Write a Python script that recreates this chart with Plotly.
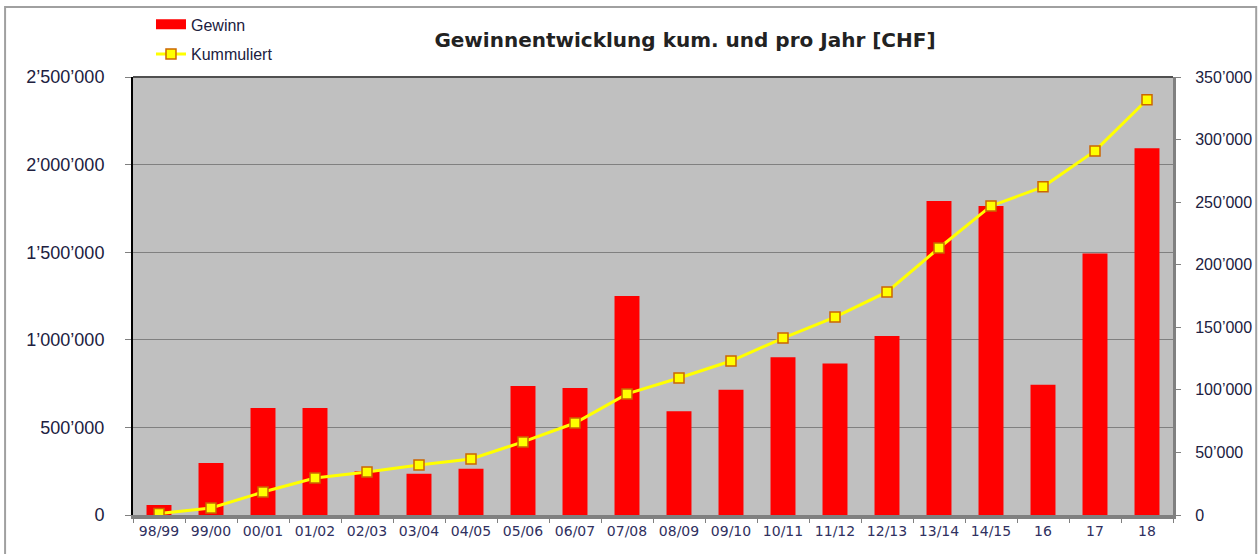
import plotly.graph_objects as go

jahre = ["98/99", "99/00", "00/01", "01/02", "02/03", "03/04", "04/05", "05/06", "06/07", "07/08",
         "08/09", "09/10", "10/11", "11/12", "12/13", "13/14", "14/15", "16", "17", "18"]
gewinn = [8000, 41500, 85500, 85500, 35000, 33000, 37000, 103000, 101500, 175000,
          83000, 100000, 126000, 121000, 143000, 251000, 247000, 104000, 209000, 293000]
kummuliert = [8000, 40000, 131000, 211000, 245000, 285000, 320000, 417000, 525000, 691000,
              782000, 879000, 1010000, 1130000, 1273000, 1524000, 1764000, 1873000, 2078000, 2370000]

fig = go.Figure()

# Balken pro Jahr (rechte Achse)
fig.add_trace(go.Bar(x=jahre, y=gewinn, name="Gewinn", marker=dict(color="#FF0000", line=dict(width=0)),
                     width=0.48, yaxis="y", showlegend=False))
# Legendeneintrag als breiter roter Balken
fig.add_trace(go.Scatter(x=[jahre[0]], y=[None], mode="lines", name="Gewinn", legendgroup="a",
                         line=dict(color="#FF0000", width=14), yaxis="y"))
# Kumulierte Linie (linke Achse)
fig.add_trace(go.Scatter(x=jahre, y=kummuliert, name="Kummuliert", legendgroup="b", mode="lines+markers",
                         line=dict(color="#FFFF00", width=3),
                         marker=dict(symbol="square", size=10, color="#FFFF00",
                                     line=dict(color="#CC6600", width=1.5)),
                         yaxis="y2"))

fig.update_layout(
    width=1258, height=554,
    margin=dict(l=133, r=85, t=77, b=39, autoexpand=False),
    paper_bgcolor="white",
    plot_bgcolor="#C0C0C0",
    separators=".’",
    bargap=0.5,
    title=dict(text="<b>Gewinnentwicklung kum. und pro Jahr [CHF]</b>", x=0.5445, xanchor="center",
               y=0.927, yanchor="middle",
               font=dict(family="DejaVu Sans, Verdana", size=20, color="#222222")),
    legend=dict(x=0.0173, y=1.159, xanchor="left", yanchor="top", bgcolor="rgba(0,0,0,0)",
                font=dict(family="Liberation Sans, Arial", size=16, color="#202040"),
                tracegroupgap=6, itemwidth=30),
    xaxis=dict(type="category", categoryorder="array", categoryarray=jahre, range=[-0.5, len(jahre) - 0.5],
               tickson="boundaries", ticks="outside", ticklen=4, tickcolor="#808080",
               showline=True, linecolor="#808080", linewidth=4, showgrid=False,
               automargin=False, tickangle=0,
               tickfont=dict(family="DejaVu Sans, Verdana", size=14, color="#303060")),
    yaxis=dict(side="right", range=[0, 350000], dtick=50000, tickformat=",d", showgrid=False,
               showline=True, linecolor="#808080", linewidth=3, ticks="outside", ticklen=5,
               tickcolor="#808080", zeroline=False, automargin=False, ticklabelstandoff=11,
               tickfont=dict(family="Liberation Sans, Arial", size=16, color="#202040")),
    yaxis2=dict(overlaying="y", side="left", range=[0, 2500000], dtick=500000, tickformat=",d",
                showgrid=True, gridcolor="#808080", gridwidth=1, showline=True, linecolor="#000000",
                linewidth=2, ticks="outside", ticklen=6, tickcolor="#808080", zeroline=False,
                automargin=False, ticklabelstandoff=17,
                tickfont=dict(family="Liberation Sans, Arial", size=18, color="#202040")),
    shapes=[
        # Rahmen um das ganze Diagramm
        dict(type="rect", xref="paper", yref="paper", x0=-0.123, x1=1.08, y0=-0.2, y1=1.16,
             line=dict(color="#A0A0A0", width=2), layer="below"),
        # obere Kante der Zeichenfläche
        dict(type="line", xref="paper", yref="paper", x0=0, x1=1, y0=1, y1=1,
             line=dict(color="#505050", width=2)),
    ],
)

# Seitenrand des Browsers entfernen, damit das Bild bei 0,0 beginnt
fig.write_html("out.html", config={"displayModeBar": False},
               post_script="document.body.style.margin='0px';")
